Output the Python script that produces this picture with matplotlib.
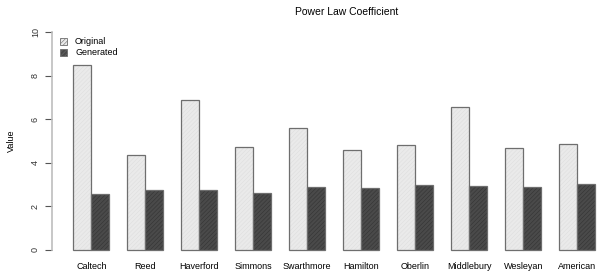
import matplotlib.pyplot as plt
import numpy as np

plt.rcParams["font.family"] = ["Liberation Sans", "DejaVu Sans"]
plt.rcParams["hatch.linewidth"] = 0.4

colleges = ["Caltech", "Reed", "Haverford", "Simmons", "Swarthmore",
            "Hamilton", "Oberlin", "Middlebury", "Wesleyan", "American"]
original = [8.50, 4.36, 6.87, 4.73, 5.59, 4.61, 4.81, 6.58, 4.70, 4.84]
generated = [2.57, 2.75, 2.75, 2.60, 2.87, 2.83, 2.98, 2.93, 2.87, 3.05]
yticks = [0, 2, 4, 6, 8, 10]

W, H = 604, 275
EDGE = "#6E6E6E"
LIGHT = "#EAEAEA"
LIGHT_HATCH = "#DEDEDE"
DARK = "#4A4A4A"
DARK_HATCH = "#333333"
FS = 6.5

fig = plt.figure(figsize=(W / 100, H / 100), dpi=100)
# plot region in pixels, R style: x from -0.16 data, y from -0.4 to 10.4
left_px, right_px = 52.4, 604.0
top_px, bottom_px = 23.3, 258.7
ax = fig.add_axes([left_px / W, 1 - bottom_px / H,
                   (right_px - left_px) / W, (bottom_px - top_px) / H])
ax.set_xlim(-0.16, -0.16 + (right_px - left_px) / 18.0)
ax.set_ylim(-0.4, 10.4)

n = len(colleges)
x0 = np.arange(n) * 3 + 1  # left edge of each "Original" bar
for xs, vals, fc, hc in ((x0, original, LIGHT, LIGHT_HATCH),
                         (x0 + 1, generated, DARK, DARK_HATCH)):
    ax.bar(xs, vals, width=1, align="edge", color=fc, edgecolor=hc,
           hatch="////////", linewidth=0)
    ax.bar(xs, vals, width=1, align="edge", facecolor="none",
           edgecolor=EDGE, linewidth=0.9)

for s in ("top", "right", "bottom"):
    ax.spines[s].set_visible(False)
ax.spines["left"].set_bounds(0, 10)
ax.spines["left"].set_color("#BDBDBD")
ax.spines["left"].set_linewidth(1.2)

ax.set_yticks(yticks, [str(v) for v in yticks], rotation=90, va="center",
              fontsize=FS, color="#333333")
ax.tick_params(axis="y", length=5, width=0.8, color="#555555", pad=4)
ax.set_xticks(x0 + 1, colleges, fontsize=FS)
ax.tick_params(axis="x", length=0, pad=2.5)
ax.set_ylabel("Value", fontsize=FS, labelpad=11)

fig.text(347 / W, 1 - 12 / H, "Power Law Coefficient", ha="center",
         va="center", fontsize=7.5)

# legend
for yy, label, fc, hc in ((42, "Original", LIGHT, LIGHT_HATCH),
                          (52.5, "Generated", DARK, DARK_HATCH)):
    r = plt.Rectangle((60 / W, 1 - (yy + 3) / H), 6.5 / W, 6.5 / H,
                      transform=fig.transFigure, facecolor=fc,
                      edgecolor=EDGE, linewidth=0.6, hatch="////////")
    fig.add_artist(r)
    fig.text(75 / W, 1 - yy / H, label, ha="left", va="center", fontsize=FS)

fig.savefig("out.png", dpi=100, facecolor="white")
